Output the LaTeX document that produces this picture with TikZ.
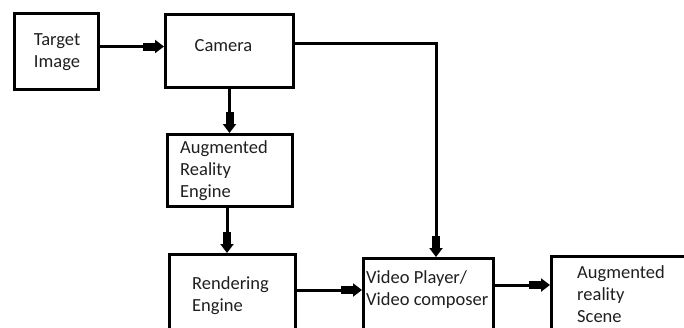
\documentclass[tikz,border=0pt]{standalone}
\usepackage{fontspec}
\setmainfont{Carlito}
\usetikzlibrary{arrows.meta}

\begin{document}
\begin{tikzpicture}[
    x=1pt, y=-1pt,
    every node/.style={inner sep=0pt},
    box/.style={draw, line width=3pt, rectangle},
    txt/.style={text=black!88, font=\fontsize{18.5}{22}\selectfont},
    arr/.style={line width=3pt,
        -{Rectangle[length=12pt,width=8pt]Triangle[length=9pt,width=13pt]}}
]
\useasboundingbox (0,0) rectangle (684,327);
\clip (0,0) rectangle (684,327);

% Cajas
\node[box, minimum width=84pt, minimum height=76pt] (tgt) at (56.5,51.5) {};
\node[box, minimum width=128pt, minimum height=73pt] (cam) at (229.5,51) {};
\node[box, minimum width=125pt, minimum height=72pt] (are) at (230,170.5) {};
\node[box, minimum width=126pt, minimum height=120pt] (ren) at (232.5,314.5) {};
\node[box, minimum width=130pt, minimum height=120pt] (vid) at (428.5,318.5) {};
\node[box, minimum width=200pt, minimum height=120pt] (scn) at (651.5,316.5) {};

% Textos
\node[txt, align=center] (tgtT) at (57,52.5) {Target\\Image};
\node[txt] (camT) at (223.5,46) {Camera};
\node[txt, align=left, anchor=west] (areT) at (180,171) {Augmented\\Reality\\Engine};
\node[txt, align=left, anchor=west] (renT) at (192,296) {Rendering\\Engine};
\node[txt, align=left, anchor=west] (vidT) at (366,290) {Video Player/\\Video composer};
\node[txt, align=left, anchor=west] (scnT) at (577,294) {Augmented\\reality\\Scene};

% Puntos de salida
\coordinate (renOut) at ([yshift=-37pt]ren.north east);
\coordinate (vidOut) at ([yshift=-28pt]vid.north east);

% Flechas
\draw[arr] ([yshift=5pt]tgt.east) -- ([yshift=5pt]tgt.east -| cam.west);
\draw[arr] (cam.south) -- (cam.south |- are.north);
\draw[arr] ([xshift=-3pt]are.south) -- ([xshift=-3pt]are.south |- ren.north);
\draw[arr] ([yshift=8pt]cam.east) -| ([xshift=7.5pt]vid.north);
\draw[arr] (renOut) -- (renOut -| vid.west);
\draw[arr] (vidOut) -- (vidOut -| scn.west);

\end{tikzpicture}
\end{document}
